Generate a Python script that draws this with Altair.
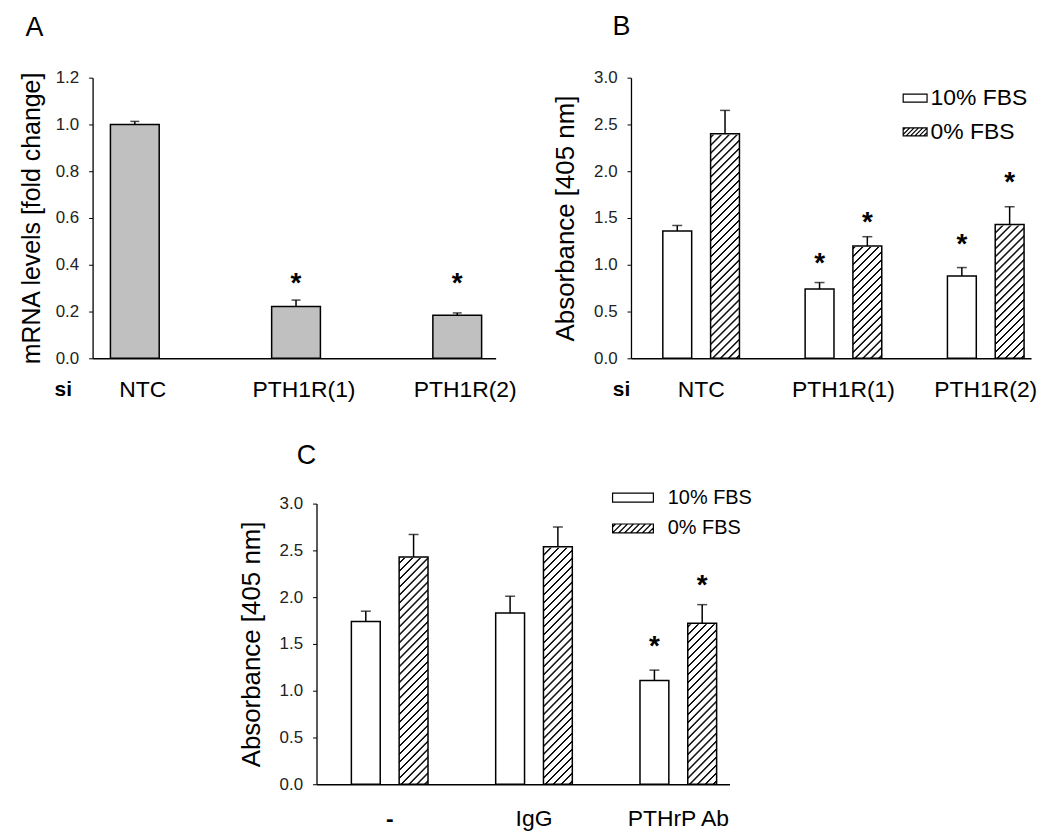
import altair as alt
import pandas as pd

# ---------------- data ----------------
panel_letters = ["A", "B", "C"]
serum = ["10% FBS", "0% FBS"]

A_cats = ["NTC", "PTH1R(1)", "PTH1R(2)"]
A_mean = [1.00, 0.222, 0.184]
A_sem = [0.013, 0.027, 0.010]
A_star = [None, 0.35, 0.35]
A_ticks = [0.0, 0.2, 0.4, 0.6, 0.8, 1.0, 1.2]

B_cats = ["NTC", "PTH1R(1)", "PTH1R(2)"]
B_10_mean = [1.36, 0.74, 0.88]
B_10_sem = [0.06, 0.07, 0.09]
B_10_star = [None, 1.09, 1.30]
B_0_mean = [2.40, 1.20, 1.43]
B_0_sem = [0.25, 0.10, 0.19]
B_0_star = [None, 1.53, 1.96]

C_cats = ["-", "IgG", "PTHrP Ab"]
C_10_mean = [1.74, 1.83, 1.11]
C_10_sem = [0.11, 0.18, 0.11]
C_10_star = [None, None, 1.55]
C_0_mean = [2.43, 2.54, 1.72]
C_0_sem = [0.24, 0.21, 0.20]
C_0_star = [None, None, 2.20]

BC_ticks = [0.0, 0.5, 1.0, 1.5, 2.0, 2.5, 3.0]

FONT = "Liberation Sans"
PLOT_H = 282


def grouped_df(cats, m10, s10, st10, m0, s0, st0):
    rows = []
    for i, c in enumerate(cats):
        rows.append({"cat": c, "serum": serum[0], "mean": m10[i], "sem": s10[i], "star": st10[i]})
        rows.append({"cat": c, "serum": serum[1], "mean": m0[i], "sem": s0[i], "star": st0[i]})
    return pd.DataFrame(rows)


def band_width(width, n, pin, pout):
    step = width / (n - pin + 2 * pout)
    return step * (1 - pin)


def hatch_gradient(W, H, period=8.0, half=0.7, soft=0.7, color="#111111"):
    L = W + H
    stops = []
    c = period / 2
    while c - half - soft < L:
        for off, col in [((c - half - soft) / L, "#ffffff"), ((c - half) / L, color),
                         ((c + half) / L, color), ((c + half + soft) / L, "#ffffff")]:
            stops.append({"offset": min(max(off, 0.0), 1.0), "color": col})
        c += period
    d = W * W + H * H
    return {"gradient": "linear", "x1": 0, "y1": 0,
            "x2": W * L / d, "y2": H * L / d, "stops": stops}


def legend_paths(half_w, half_h=1.0, spacing=1.1):
    box = f"M{-half_w:.3f},{-half_h:.3f}H{half_w:.3f}V{half_h:.3f}H{-half_w:.3f}Z"
    lines = []
    x0 = -half_w - 2 * half_h + spacing * 0.5
    while x0 < half_w:
        xa, ya = x0, half_h
        xb, yb = x0 + 2 * half_h, -half_h
        if xa < -half_w:
            ya = half_h - (-half_w - x0)
            xa = -half_w
        if xb > half_w:
            yb = half_h - (half_w - x0)
            xb = half_w
        if xb > xa + 0.05:
            lines.append(f"M{xa:.3f},{ya:.3f}L{xb:.3f},{yb:.3f}")
        x0 += spacing
    return box, box + "".join(lines)


def y_axis(values, title, title_x, title_size):
    return alt.Axis(values=values, format=".1f", title=title, titleX=title_x,
                    titleFontSize=title_size, titleFontWeight="normal", titleColor="black",
                    titleFont=FONT, labelFont=FONT, labelFontSize=17, labelColor="#222222",
                    labelPadding=10, tickSize=4, tickColor="black", tickWidth=1,
                    domainColor="black", domainWidth=1.3, grid=False)


def x_axis(title, title_x, label_pad, label_offset):
    kw = dict(labelAngle=0, labelFont=FONT, labelFontSize=23, labelColor="black",
              labelPadding=label_pad, labelOffset=label_offset, ticks=False,
              labelFontWeight={"condition": {"test": "datum.value === '-'", "value": "bold"},
                               "value": "normal"},
              domainColor="black", domainWidth=1.5, grid=False)
    if title:
        kw.update(title=title, titleX=title_x, titleY=37, titleAlign="center",
                  titleBaseline="alphabetic", titleFontWeight="bold", titleFontSize=21,
                  titleFont=FONT, titleColor="black")
    else:
        kw.update(title=None)
    return alt.Axis(**kw)


def letter_layer(letter, dx, dy):
    return alt.Chart(pd.DataFrame({"letter": [letter]})).mark_text(
        font=FONT, fontSize=27, align="center", baseline="alphabetic", color="black"
    ).encode(text="letter:N", x=alt.value(dx), y=alt.value(dy))


# ---------------- panel A ----------------
A_W = 405
A_df = pd.DataFrame({"cat": A_cats, "mean": A_mean, "sem": A_sem, "star": A_star})
xA = alt.X("cat:N", sort=A_cats,
           scale=alt.Scale(domain=A_cats, paddingInner=0.6975, paddingOuter=0.0988, align=0.56),
           axis=x_axis("si", -30, 20, 8))
scA = alt.Scale(domain=[0, 1.2], nice=False, zero=True)
axA = y_axis(A_ticks, "mRNA levels [fold change]", -48, 25)
baseA = alt.Chart(A_df).transform_calculate(upper="datum.mean + datum.sem").encode(x=xA)
A_bars = baseA.mark_bar(fill="#c0c0c0", stroke="black", strokeWidth=1.5).encode(
    y=alt.Y("mean:Q", scale=scA, axis=axA))
A_err = baseA.mark_rule(color="black", strokeWidth=1.5).encode(
    y=alt.Y("mean:Q", scale=scA, axis=axA), y2="upper:Q")
A_cap = baseA.mark_tick(orient="horizontal", size=9, thickness=1.5, color="black").encode(
    y=alt.Y("upper:Q", scale=scA, axis=axA))
A_stars = baseA.transform_filter("isValid(datum.star)").mark_text(
    text="*", font=FONT, fontSize=28, fontWeight="bold", dy=16, baseline="alphabetic", color="black"
).encode(y=alt.Y("star:Q", scale=scA, axis=axA))
panelA = alt.layer(A_bars, A_err, A_cap, A_stars, letter_layer(panel_letters[0], -58.5, -42)).properties(
    width=A_W, height=PLOT_H)


# ---------------- grouped panels B and C ----------------
def grouped_panel(df, cats, width, pin, pout, align, sub_pin, y_title, title_x, title_size,
                  x_title, x_title_x, label_pad, legend, letter, letter_dx, letter_dy):
    group_bw = band_width(width, len(cats), pin, pout)
    bar_w = band_width(group_bw, 2, sub_pin, 0.0)
    grad = hatch_gradient(bar_w, PLOT_H)
    X = alt.X("cat:N", sort=cats,
              scale=alt.Scale(domain=cats, paddingInner=pin, paddingOuter=pout, align=align),
              axis=x_axis(x_title, x_title_x, label_pad, 0))
    XO = alt.XOffset("serum:N", sort=serum,
                     scale=alt.Scale(domain=serum, paddingInner=sub_pin, paddingOuter=0))
    sc = alt.Scale(domain=[0, 3], nice=False, zero=True)
    ax = y_axis(BC_ticks, y_title, title_x, title_size)
    base = alt.Chart(df).transform_calculate(upper="datum.mean + datum.sem").encode(x=X, xOffset=XO)
    hatched = base.transform_filter(alt.datum.serum == serum[1])
    hatch_bg = hatched.mark_bar(fill=grad, strokeWidth=0).encode(
        y=alt.YDatum(3.0, scale=sc, axis=ax), y2=alt.Y2Datum(0.0))
    cover = hatched.mark_bar(fill="white", stroke="white", strokeWidth=2).encode(
        y=alt.Y("mean:Q", scale=sc, axis=ax), y2=alt.Y2Datum(3.0))
    bars = base.mark_bar(stroke="black", strokeWidth=1.5).encode(
        y=alt.Y("mean:Q", scale=sc, axis=ax),
        fill=alt.condition(alt.datum.serum == serum[0], alt.value("#ffffff"),
                           alt.value("rgba(255,255,255,0)")))
    err = base.mark_rule(color="black", strokeWidth=1.5).encode(
        y=alt.Y("mean:Q", scale=sc, axis=ax), y2="upper:Q")
    cap = base.mark_tick(orient="horizontal", size=10, thickness=1.5, color="black").encode(
        y=alt.Y("upper:Q", scale=sc, axis=ax))
    stars = base.transform_filter("isValid(datum.star)").mark_text(
        text="*", font=FONT, fontSize=28, fontWeight="bold", dy=16, baseline="alphabetic", color="black"
    ).encode(y=alt.Y("star:Q", scale=sc, axis=ax))
    leg = base.mark_point(opacity=0, filled=False, color="black", strokeWidth=1.2).encode(
        y=alt.Y("mean:Q", scale=sc, axis=ax),
        shape=alt.Shape("serum:N", sort=serum,
                        scale=alt.Scale(domain=serum, range=list(legend["paths"])),
                        legend=alt.Legend(title=None, orient="none", legendX=legend["x"], legendY=legend["y"],
                                          symbolSize=legend["size"], symbolOffset=legend["sym_off"],
                                          labelOffset=legend["lab_off"], symbolFillColor="white",
                                          symbolStrokeColor="black", symbolStrokeWidth=1.2,
                                          symbolOpacity=1, labelFont=FONT, labelFontSize=legend["font"],
                                          labelColor="black", rowPadding=legend["row_pad"], padding=0,
                                          offset=0)))
    return alt.layer(hatch_bg, cover, bars, err, cap, stars, leg,
                     letter_layer(letter, letter_dx, letter_dy)).properties(width=width, height=PLOT_H)


B_df = grouped_df(B_cats, B_10_mean, B_10_sem, B_10_star, B_0_mean, B_0_sem, B_0_star)
C_df = grouped_df(C_cats, C_10_mean, C_10_sem, C_10_star, C_0_mean, C_0_sem, C_0_star)

legB = {"paths": legend_paths(3.0, 1.0, 1.1), "x": 266, "y": 9, "size": 64, "sym_off": 8,
        "lab_off": 4, "font": 23, "row_pad": 10}
legC = {"paths": legend_paths(4.556, 1.0, 1.33), "x": 292, "y": -16, "size": 81, "sym_off": 16,
        "lab_off": 25, "font": 20, "row_pad": 11}

panelB = grouped_panel(B_df, B_cats, 402, 0.4615, 0.1364, 0.82, 0.396,
                       "Absorbance [405 nm]", -53, 26, "si", -10, 20, legB,
                       panel_letters[1], -9.5, -43)
panelC = grouped_panel(C_df, C_cats, 415, 0.469, 0.1655, 0.73, 0.385,
                       "Absorbance [405 nm]", -52, 26, None, 0, 23, legC,
                       panel_letters[2], -10, -40)

spacer = alt.Chart(pd.DataFrame({"v": [0]})).mark_point(opacity=0).encode(
    x=alt.value(0), y=alt.value(0)).properties(width=1, height=1)

top_row = alt.hconcat(panelA, panelB, spacing=136, bounds="flush").resolve_scale(
    shape="independent").resolve_legend(shape="independent")
bottom_row = alt.hconcat(spacer, panelC, spacing=224, bounds="flush").resolve_scale(
    shape="independent").resolve_legend(shape="independent")

# with flush bounds the nested row counts as zero height, so the spacing holds the row height too
chart = alt.vconcat(top_row, bottom_row, spacing=PLOT_H + 146, bounds="flush").resolve_scale(
    shape="independent").resolve_legend(shape="independent").properties(
    padding={"left": 11, "top": 3, "right": 5, "bottom": 5},
    background="white",
).configure(font=FONT).configure_view(stroke=None)

chart.save("out.html", embed_options={"renderer": "svg", "actions": False})
